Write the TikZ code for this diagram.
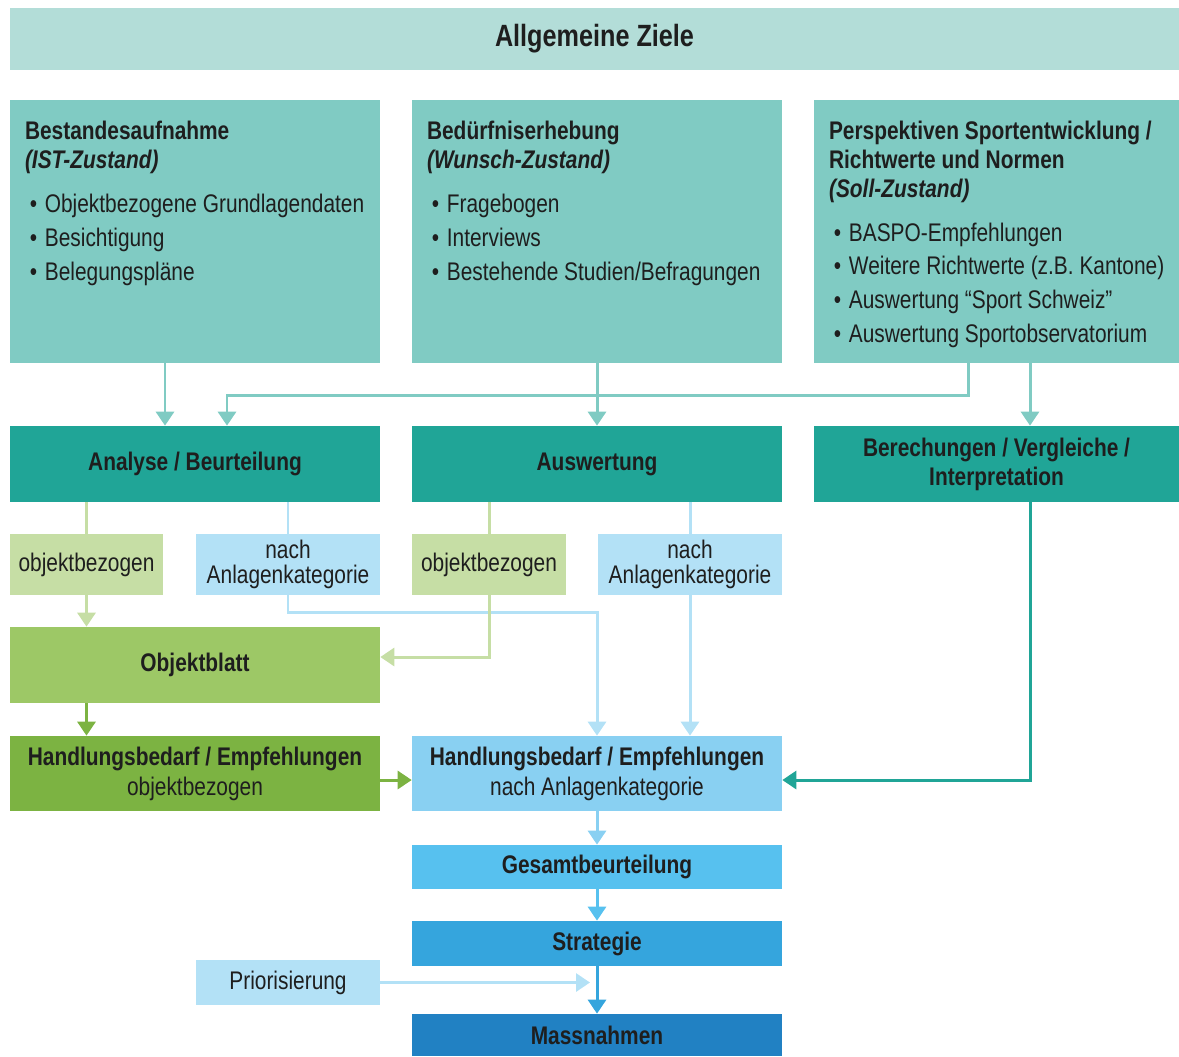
\documentclass[tikz,border=0pt]{standalone}
\usepackage{fontspec}
\setmainfont{Liberation Sans}[FakeStretch=0.82]
\usetikzlibrary{arrows.meta,calc}

\definecolor{ziel}{HTML}{B3DDD8}
\definecolor{mint}{HTML}{80CBC3}
\definecolor{petrol}{HTML}{20A597}
\definecolor{hellgruen}{HTML}{C6DEA5}
\definecolor{hellblau}{HTML}{B3E1F6}
\definecolor{blattgruen}{HTML}{9DC866}
\definecolor{gruen}{HTML}{7CB342}
\definecolor{himmel}{HTML}{89D0F2}
\definecolor{gesamtblau}{HTML}{57C1EF}
\definecolor{stratblau}{HTML}{35A5DD}
\definecolor{massblau}{HTML}{2181C3}
\definecolor{schrift}{HTML}{1E1E1E}

\newcommand{\punkt}{\hspace*{2.8pt}\makebox[8.5pt][l]{\textbullet}}

\tikzset{
  box/.style={rectangle, inner sep=0pt, align=center, text=schrift,
    font=\fontsize{14.5}{16.4}\selectfont},
  liste/.style={anchor=north west, inner sep=0pt, align=left, text=schrift,
    font=\fontsize{14.5}{16.4}\selectfont},
  linie/.style={line width=1.7pt},
  pfeil/.style={line width=1.7pt, -{Triangle[width=0.36cm,length=0.28cm]}}
}

\begin{document}
\begin{tikzpicture}[x=0.02cm, y=-0.02cm]
  \useasboundingbox (0,0) rectangle (1179,1056);

  \node[box, fill=ziel, minimum width=23.38cm, minimum height=1.24cm,
    font=\bfseries\fontsize{17.5}{20}\selectfont] (ziele) at (594.5,39) {Allgemeine Ziele};

  \node[box, fill=mint, minimum width=7.4cm, minimum height=5.26cm] (bestand) at (195,231.5) {};
  \node[box, fill=mint, minimum width=7.4cm, minimum height=5.26cm] (bedarf) at (597,231.5) {};
  \node[box, fill=mint, minimum width=7.3cm, minimum height=5.26cm] (soll) at (996.5,231.5) {};

  \node[liste] (bestandtxt) at ($(bestand.north west)+(15,21)$) {%
    \textbf{Bestandesaufnahme}\\
    \textbf{\textit{(IST-Zustand)}}\\[8.6pt]
    \punkt Objektbezogene Grundlagendaten\\[2.9pt]
    \punkt Besichtigung\\[2.9pt]
    \punkt Belegungspläne};
  \node[liste] (bedarftxt) at ($(bedarf.north west)+(15,21)$) {%
    \textbf{Bedürfniserhebung}\\
    \textbf{\textit{(Wunsch-Zustand)}}\\[8.6pt]
    \punkt Fragebogen\\[2.9pt]
    \punkt Interviews\\[2.9pt]
    \punkt Bestehende Studien/Befragungen};
  \node[liste] (solltxt) at ($(soll.north west)+(15,21)$) {%
    \textbf{Perspektiven Sportentwicklung /}\\
    \textbf{Richtwerte und Normen}\\
    \textbf{\textit{(Soll-Zustand)}}\\[8.6pt]
    \punkt BASPO-Empfehlungen\\[2.9pt]
    \punkt Weitere Richtwerte (z.B. Kantone)\\[2.9pt]
    \punkt Auswertung “Sport Schweiz”\\[2.9pt]
    \punkt Auswertung Sportobservatorium};

  \node[box, fill=petrol, minimum width=7.4cm, minimum height=1.52cm] (analyse) at (195,464) {\textbf{Analyse / Beurteilung}};
  \node[box, fill=petrol, minimum width=7.4cm, minimum height=1.52cm] (auswert) at (597,464) {\textbf{Auswertung}};
  \node[box, fill=petrol, minimum width=7.3cm, minimum height=1.52cm] (berech) at (996.5,464) {\textbf{Berechungen / Vergleiche /}\\\textbf{Interpretation}};

  \node[box, fill=hellgruen, minimum width=3.06cm, minimum height=1.22cm] (obj1) at (86.5,564.5) {objektbezogen};
  \node[box, fill=hellblau, minimum width=3.68cm, minimum height=1.22cm,
    font=\fontsize{14.5}{14.2}\selectfont] (kat1) at (288,564.5) {nach\\Anlagenkategorie};
  \node[box, fill=hellgruen, minimum width=3.08cm, minimum height=1.22cm] (obj2) at (489,564.5) {objektbezogen};
  \node[box, fill=hellblau, minimum width=3.68cm, minimum height=1.22cm,
    font=\fontsize{14.5}{14.2}\selectfont] (kat2) at (690,564.5) {nach\\Anlagenkategorie};

  \node[box, fill=blattgruen, minimum width=7.4cm, minimum height=1.52cm] (blatt) at (195,665) {\textbf{Objektblatt}};
  \node[box, fill=gruen, minimum width=7.4cm, minimum height=1.5cm,
    font=\fontsize{14.5}{17}\selectfont] (hbobj) at (195,773.5) {\textbf{Handlungsbedarf / Empfehlungen}\\objektbezogen};
  \node[box, fill=himmel, minimum width=7.4cm, minimum height=1.5cm,
    font=\fontsize{14.5}{17}\selectfont] (hbkat) at (597,773.5) {\textbf{Handlungsbedarf / Empfehlungen}\\nach Anlagenkategorie};
  \node[box, fill=gesamtblau, minimum width=7.4cm, minimum height=0.88cm] (gesamt) at (597,867) {\textbf{Gesamtbeurteilung}};
  \node[box, fill=stratblau, minimum width=7.4cm, minimum height=0.9cm] (strat) at (597,943.5) {\textbf{Strategie}};
  \node[box, fill=hellblau, minimum width=3.68cm, minimum height=0.9cm] (prio) at (288,982.5) {Priorisierung};
  \node[box, fill=massblau, minimum width=7.4cm, minimum height=0.84cm] (mass) at (597,1035) {\textbf{Massnahmen}};
  \coordinate (prioend) at ($(mass.north)+(-7,0)$);

  \draw[pfeil, mint] ($(bestand.south)+(-30,0)$) -- ($(analyse.north)+(-30,0)$);
  \draw[pfeil, mint] ($(soll.south)+(-28.5,0)$) -- ++(0,32) -| ($(analyse.north)+(32,0)$);
  \draw[pfeil, mint] (bedarf.south) -- (auswert.north);
  \draw[pfeil, mint] ($(soll.south)+(33.5,0)$) -- ($(berech.north)+(33.5,0)$);

  \draw[linie, hellgruen] (analyse.south -| obj1) -- (obj1.north);
  \draw[pfeil, hellgruen] (obj1.south) -- (blatt.north -| obj1);
  \draw[linie, hellblau] (analyse.south -| kat1) -- (kat1.north);
  \draw[pfeil, hellblau] (kat1.south) -- ++(0,17) -| (hbkat.north);
  \draw[linie, hellgruen] (auswert.south -| obj2) -- (obj2.north);
  \draw[pfeil, hellgruen] (obj2.south) |- ($(blatt.east)+(0,-8)$);
  \draw[linie, hellblau] (auswert.south -| kat2) -- (kat2.north);
  \draw[pfeil, hellblau] (kat2.south) -- (hbkat.north -| kat2);

  \draw[pfeil, gruen] (blatt.south -| obj1) -- (hbobj.north -| obj1);
  \draw[pfeil, gruen] ($(hbobj.east)+(0,6.5)$) -- ($(hbkat.west)+(0,6.5)$);
  \draw[pfeil, petrol] ($(berech.south)+(33.5,0)$) |- ($(hbkat.east)+(0,6.5)$);

  \draw[pfeil, himmel] (hbkat.south) -- (gesamt.north);
  \draw[pfeil, gesamtblau] (gesamt.south) -- (strat.north);
  \draw[pfeil, stratblau] (strat.south) -- (mass.north);
  \draw[pfeil, hellblau] (prio.east) -- (prio.east -| prioend);
\end{tikzpicture}
\end{document}
